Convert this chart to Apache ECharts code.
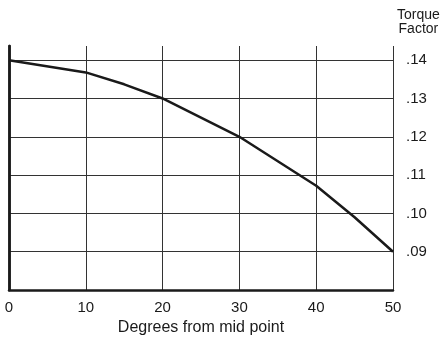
<!DOCTYPE html>
<html>
<head>
<meta charset="utf-8">
<script src="https://cdn.jsdelivr.net/npm/echarts@6/dist/echarts.min.js"></script>
<style>
  html, body { margin: 0; padding: 0; background: #fff; }
  #chart { width: 444px; height: 337px; }
</style>
</head>
<body>
<div id="chart"></div>
<script>
// degrees from mid point vs torque factor
let degrees = [0, 10, 15, 20, 30, 40, 45, 50];
let torque = [0.140, 0.1368, 0.1337, 0.130, 0.120, 0.1072, 0.099, 0.090];
let xTicks = [0, 10, 20, 30, 40, 50];
let yTicks = [0.09, 0.10, 0.11, 0.12, 0.13, 0.14];

let ink = '#1a1a1a';
let font = 'Liberation Sans, Arial, sans-serif';

let points = degrees.map((d, i) => [d, torque[i]]);

let myChart = echarts.init(document.getElementById('chart'), null, {renderer: 'canvas'});

let option = {
    animation: false,
    backgroundColor: '#fff',
    grid: {left: 9, right: 51, top: 46, bottom: 47, containLabel: false, outerBoundsMode: 'none'},
    graphic: [{
        type: 'text',
        left: 397,
        top: 8,
        style: {
            text: 'Torque\nFactor',
            fontSize: 14,
            fontFamily: font,
            fill: ink,
            textAlign: 'center',
            lineHeight: 14
        }
    }],
    xAxis: {
        type: 'value',
        min: 0,
        max: 50,
        interval: 10,
        name: 'Degrees from mid point',
        nameLocation: 'middle',
        nameGap: 28,
        nameTextStyle: {fontSize: 16, fontFamily: font, color: ink},
        axisLine: {show: true, onZero: false, lineStyle: {color: ink, width: 2.5}},
        axisTick: {show: false},
        axisLabel: {
            margin: 10,
            fontSize: 15,
            fontFamily: font,
            color: ink,
            formatter: v => xTicks.indexOf(v) >= 0 ? String(v) : ''
        },
        splitLine: {show: true, lineStyle: {color: '#333', width: 1}}
    },
    yAxis: [{
        type: 'value',
        position: 'right',
        min: 0.08,
        max: 0.1437,
        interval: 0.01,
        axisLine: {show: true, lineStyle: {color: ink, width: 2.5}},
        axisTick: {show: false},
        axisLabel: {
            margin: 13,
            padding: [5, 0, 0, 0],
            fontSize: 15,
            fontFamily: font,
            color: ink,
            formatter: function (v) {
                let hit = yTicks.find(t => Math.abs(t - v) < 1e-6);
                return hit === undefined ? '' : hit.toFixed(2).replace(/^0/, '');
            }
        },
        splitLine: {
            show: true,
            lineStyle: {
                color: ['#333', '#333', '#333', '#333', '#333', '#333', '#333', 'rgba(0,0,0,0)'],
                width: 1
            }
        }
    }, {
        type: 'value',
        position: 'left',
        min: 0.08,
        max: 0.1437,
        axisLine: {show: true, lineStyle: {color: ink, width: 2.5}},
        axisTick: {show: false},
        axisLabel: {show: false},
        splitLine: {show: false}
    }],
    series: [{
        type: 'line',
        data: points,
        yAxisIndex: 0,
        showSymbol: false,
        smooth: false,
        lineStyle: {color: ink, width: 2.5},
        z: 5
    }]
};

myChart.setOption(option);
</script>
</body>
</html>
